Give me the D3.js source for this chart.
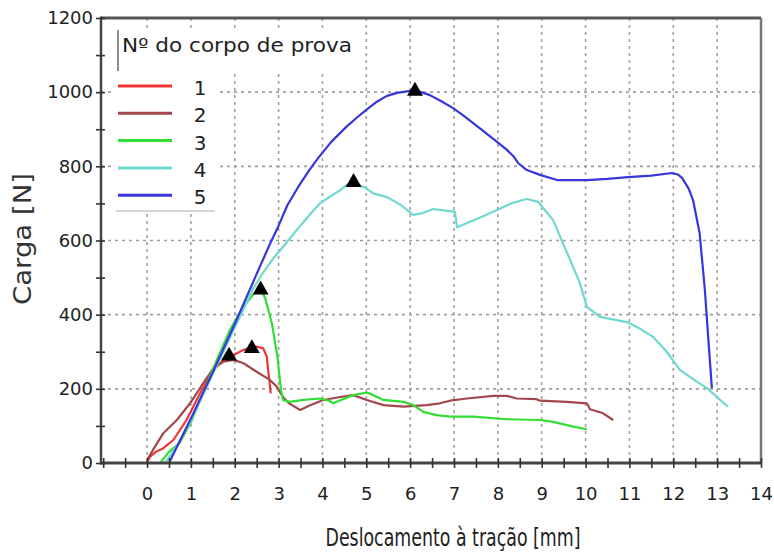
<!DOCTYPE html>
<html>
<head>
<meta charset="utf-8">
<script src="https://cdn.jsdelivr.net/npm/d3@7"></script>
<style>
  body { margin: 0; background: #fff; }
  text { font-family: "DejaVu Sans", sans-serif; }
</style>
</head>
<body>
<svg id="chart"></svg>
<script>
// tick labels
const xTickValues = d3.range(-1, 14.01, 0.5);
const yTickValues = d3.range(0, 1201, 100);
const xGrid = d3.range(0, 14);
const yGrid = [200, 400, 600, 800, 1000];

// series (Deslocamento [mm], Carga [N])
const seriesNames = ["1", "2", "3", "4", "5"];
const seriesColors = ["#f03434", "#a2474b", "#33dd33", "#6fd8cf", "#3636dc"];

const serie1 = [[0,3],[0.07,17],[0.2,30],[0.37,40],[0.6,62],[0.9,116],[1.21,188],[1.51,251],[1.74,278],
  [1.97,291],[2.2,305],[2.5,314],[2.65,309],[2.73,287],[2.77,242],[2.82,188]];

const serie2 = [[0,8],[0.18,44],[0.37,80],[0.68,116],[0.98,161],[1.28,215],[1.51,255],[1.74,273],[1.97,278],
  [2.2,269],[2.5,246],[2.8,224],[2.96,206],[3.1,178],[3.25,160],[3.49,143],[3.72,156],[4.02,170],[4.4,178],
  [4.7,183],[5.01,170],[5.39,156],[5.85,152],[6.38,156],[6.68,161],[6.91,168],[7.29,174],[7.9,181],[8.2,181],
  [8.43,174],[8.88,172],[8.96,168],[9.57,165],[10.03,161],[10.1,145],[10.4,134],[10.63,116]];

const serie3 = [[0.3,0],[0.5,30],[0.75,55],[1.0,110],[1.28,188],[1.59,278],[1.89,359],[2.2,422],[2.45,458],
  [2.58,470],[2.69,446],[2.85,375],[2.98,280],[3.05,200],[3.1,170],[3.26,165],[3.56,170],[3.94,174],[4.15,168],
  [4.25,161],[4.32,165],[4.7,183],[5.01,190],[5.16,183],[5.39,170],[5.85,165],[6.07,156],[6.3,138],[6.6,129],
  [6.91,125],[7.44,125],[8.2,118],[8.96,116],[9.26,111],[9.72,98],[10.03,91]];

const serie4 = [[0.41,0],[0.7,50],[1.0,115],[1.5,240],[2.0,365],[2.42,470],[2.6,505],[2.88,552],[3.15,590],
  [3.41,628],[3.7,668],[3.94,700],[4.17,718],[4.4,735],[4.55,750],[4.71,757],[4.85,748],[5.0,740],[5.16,727],
  [5.47,717],[5.8,695],[6.07,669],[6.29,674],[6.52,685],[7.02,677],[7.07,636],[7.3,647],[7.65,665],[7.98,682],
  [8.3,700],[8.66,712],[8.92,704],[9.26,655],[9.58,566],[9.87,485],[10.03,421],[10.33,394],[10.94,380],
  [11.2,365],[11.54,340],[11.85,300],[12.15,251],[12.5,222],[12.77,202],[13.25,151]];

const serie5 = [[0.5,0],[1.0,120],[1.5,245],[2.0,375],[2.5,510],[2.8,590],[3.0,640],[3.2,695],[3.45,745],
  [3.7,790],[3.9,822],[4.2,866],[4.55,907],[4.8,933],[5.0,952],[5.25,975],[5.47,990],[5.7,998],[5.97,1003],
  [6.11,1005],[6.3,998],[6.45,992],[6.7,976],[6.98,957],[7.2,938],[7.43,917],[7.7,892],[7.98,866],[8.2,845],
  [8.35,828],[8.46,809],[8.66,790],[8.96,777],[9.35,763],[10.03,763],[10.5,766],[10.97,771],[11.5,775],
  [11.97,782],[12.1,778],[12.2,769],[12.35,740],[12.45,709],[12.6,620],[12.72,467],[12.8,332],[12.88,202]];

// max load markers
const peakX = [2.39, 1.87, 2.59, 4.71, 6.11];
const peakY = [309, 289, 467, 757, 1003];

const allSeries = [serie1, serie2, serie3, serie4, serie5];

const width = 774, height = 554;
const svg = d3.select("#chart").attr("width", width).attr("height", height);

const x = d3.scaleLinear().domain([-1.05, 14]).range([101, 761]);
const y = d3.scaleLinear().domain([0, 1200]).range([463, 18]);

// dotted grid
const gridG = svg.append("g");
gridG.selectAll("line.gx").data(xGrid).join("line").attr("class", "gx")
  .attr("x1", d => x(d)).attr("x2", d => x(d))
  .attr("y1", y(1200)).attr("y2", y(0));
gridG.selectAll("line.gy").data(yGrid).join("line").attr("class", "gy")
  .attr("x1", x(-1.05)).attr("x2", x(14))
  .attr("y1", d => y(d)).attr("y2", d => y(d));
gridG.selectAll("line")
  .attr("stroke", "#a0a0a0").attr("stroke-width", 1.6).attr("stroke-dasharray", "3,4");

// curves
const line = d3.line().x(d => x(d[0])).y(d => y(d[1]));
svg.append("g").selectAll("path").data(allSeries).join("path")
  .attr("d", d => line(d))
  .attr("fill", "none")
  .attr("stroke", (d, i) => seriesColors[i])
  .attr("stroke-width", 2.2)
  .attr("stroke-linejoin", "round");

// triangles
const tri = d3.symbol().type(d3.symbolTriangle).size(110);
svg.append("g").selectAll("path").data(peakX).join("path")
  .attr("d", tri)
  .attr("transform", (d, i) => `translate(${x(d)},${y(peakY[i])})`)
  .attr("fill", "#000");

// frame
svg.append("line").attr("x1", x(-1.05)).attr("x2", x(14)).attr("y1", y(1200)).attr("y2", y(1200))
  .attr("stroke", "#555").attr("stroke-width", 3);
svg.append("line").attr("x1", x(14)).attr("x2", x(14)).attr("y1", y(1200)).attr("y2", y(0))
  .attr("stroke", "#777").attr("stroke-width", 2.5);
svg.append("line").attr("x1", x(-1.05)).attr("x2", x(-1.05)).attr("y1", y(1200) - 1.5).attr("y2", y(0) + 1.5)
  .attr("stroke", "#444").attr("stroke-width", 2.5);
svg.append("line").attr("x1", x(-1.05)).attr("x2", x(14)).attr("y1", y(0)).attr("y2", y(0))
  .attr("stroke", "#444").attr("stroke-width", 3.2);

// axes
const yAxis = d3.axisLeft(y).tickValues(yTickValues)
  .tickFormat(d => d % 200 === 0 ? d : "").tickSize(5).tickPadding(3);
const gy = svg.append("g").attr("transform", `translate(${x(-1.05)},0)`).call(yAxis);
gy.select(".domain").remove();
gy.selectAll(".tick line").attr("x1", 4).attr("stroke", "#333").attr("stroke-width", 1.6);
gy.selectAll(".tick text").attr("font-size", 18).attr("fill", "#222").style("font-family", "DejaVu Sans");

const xAxis = d3.axisBottom(x).tickValues(xTickValues)
  .tickFormat(d => (d >= 0 && Number.isInteger(d)) ? d : "").tickSize(5).tickPadding(19);
const gx = svg.append("g").attr("transform", `translate(0,${y(0)})`).call(xAxis);
gx.select(".domain").remove();
gx.selectAll(".tick line").attr("y1", -5).attr("stroke", "#333").attr("stroke-width", 1.6);
gx.selectAll(".tick text").attr("font-size", 18).attr("fill", "#222").style("font-family", "DejaVu Sans");

// axis titles
svg.append("text")
  .attr("x", 453).attr("y", 546)
  .attr("text-anchor", "middle").attr("font-size", 24).attr("fill", "#222")
  .attr("textLength", 255).attr("lengthAdjust", "spacingAndGlyphs")
  .style("font-family", "DejaVu Sans Condensed")
  .text("Deslocamento à tração [mm]");
svg.append("text")
  .attr("transform", "translate(31,239) rotate(-90)")
  .attr("text-anchor", "middle").attr("font-size", 25).attr("fill", "#333")
  .attr("textLength", 132).attr("lengthAdjust", "spacingAndGlyphs")
  .text("Carga [N]");

// legend
const legend = svg.append("g");
legend.append("rect").attr("x", 113).attr("y", 31).attr("width", 245).attr("height", 41).attr("fill", "#fff");
legend.append("rect").attr("x", 113).attr("y", 70).attr("width", 104).attr("height", 141).attr("fill", "#fff");
legend.append("line").attr("x1", 118).attr("x2", 118).attr("y1", 30).attr("y2", 71)
  .attr("stroke", "#444").attr("stroke-width", 1.2);
legend.append("line").attr("x1", 116).attr("x2", 215).attr("y1", 211).attr("y2", 211)
  .attr("stroke", "#aaa").attr("stroke-width", 1);
legend.append("text").attr("x", 122).attr("y", 52).attr("font-size", 19).attr("fill", "#222")
  .attr("textLength", 230).attr("lengthAdjust", "spacingAndGlyphs")
  .text("Nº do corpo de prova");
const items = legend.selectAll("g.item").data(seriesNames).join("g")
  .attr("transform", (d, i) => `translate(0,${86 + i * 27.3})`);
items.append("line").attr("x1", 118).attr("x2", 172)
  .attr("stroke", (d, i) => seriesColors[i]).attr("stroke-width", 3);
items.append("text").attr("x", 200).attr("y", 9).attr("text-anchor", "middle")
  .attr("font-size", 20).attr("fill", "#222").text(d => d);
</script>
</body>
</html>
